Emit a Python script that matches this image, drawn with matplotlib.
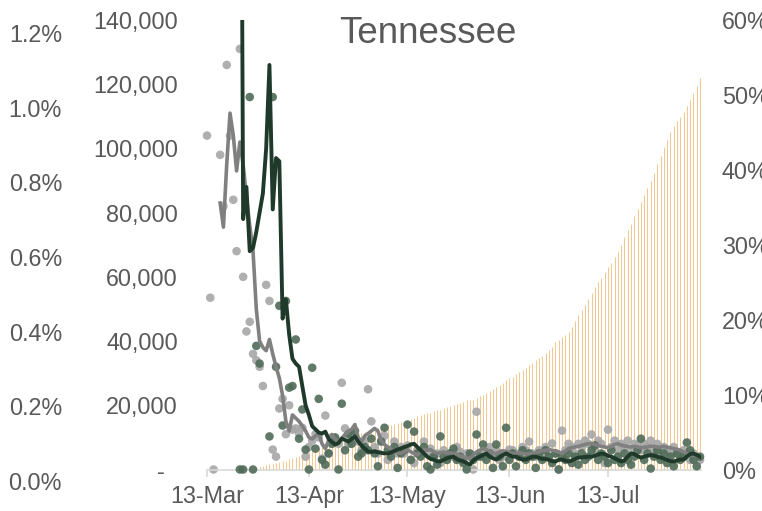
import numpy as np
import matplotlib.pyplot as plt

plt.rcParams['font.family'] = ['Liberation Sans', 'DejaVu Sans']

# x axis: days counted from 13-Mar
tick_days = [0, 31, 61, 92, 122]
tick_labels = ["13-Mar", "13-Apr", "13-May", "13-Jun", "13-Jul"]

# daily dots (thousands), first value is day 0
grey_dots_k = [
    104, 53.5, 0, None, 98, 82, 126, 104, 84, 68,
    131, 60, 43, 46, 36, 34, 32, 26, 57.5, 52.5,
    6.2, 4, 19, 22, 11, 20, 12.4, 12.8, 11.2, 13,
    4, 7, 9, 11, 10, 3.4, 16.8, 5, 10, 9,
    8, 27, 12.8, 8, 10, 12, 8.7, 6, 9, 25,
    15, 7, 5, 9, 10.5, 3, 6, 8.7, 5, 7,
    5, 7.5, 3, 2, 6, 5, 8.7, 5, 6.5, 4,
    5, 2, 6, 3, 5, 4, 7, 5.5, 3, 5,
    4, 0, 18, 5, 4, 6, 7, 5, 6, 3,
    5, 4, 6.2, 6, 5, 4, 7, 6, 8.7, 5,
    4, 6, 5, 7, 4, 8.1, 5, 0, 12.1, 6,
    8, 7, 5, 8, 7, 9, 8, 10.9, 6, 9,
    8, 2, 12.4, 7, 9, 6, 8, 7, 9, 6,
    8, 7.5, 6, 8, 7, 9, 6, 8, 5, 7,
    6.2, 5, 7, 5, 4, 6, 5, 3, 5, 4,
    3,
]
green_dots_k = [
    None, None, None, None, None, None, None, None, None, None,
    0, 0, None, 116, 0, 38.5, 33, None, None, 10.3,
    116, 32, 51, 13.7, 52.5, 25.5, 26, 40.5, 9.6, 18.7,
    6.2, 0, 31.7, 6.5, 22, 3, 1.5, 5, 8, 10,
    0, 20.5, 6, 11, 8, 12, 4, 5, 7, 6,
    9.6, 5, 1, 8.7, 13, 6, 4, 7, 0.5, 5,
    6, 14, 3, 11.8, 5, 4, 7, 1, 0, 4,
    1.5, 10.3, 4, 3, 5, 6.5, 3, 4, 2, 0,
    5, 3, 10.9, 4, 7.8, 3, 5, 0.5, 7.8, 4,
    1, 13, 3, 5, 1, 4, 6, 3, 5, 4,
    0.5, 5, 3, 6, 4, 2, 5, 0, 4, 3,
    5, 2, 4, 1.5, 5, 3, 4, 6, 7.5, 3,
    5, 4, 2, 6, 3, 4, 2, 5, 3, 1.5,
    4, 6, 9.6, 3, 5, 0.3, 4, 6, 3, 5,
    2, 4, 1, 5, 3, 4, 8.4, 6, 3, 1,
    4,
]

# smoothed lines (thousands)
grey_line_start = 4
grey_line_k = [
    83, 75.5, 95, 111, 104, 93, 102, 95, 85, 76, 68, 50,
    40, 38, 37, 40.5, 36, 32, 28.5, 23, 15, 12,
    17, 16, 15, 13.5, 12, 10, 9.5, 10.5, 11.2, 8,
    6.5, 9, 10.9, 9.5, 8.7, 9.8, 10.9, 12, 12.5, 14,
    10, 8.7, 10.5, 11.2, 12, 12.8, 12, 9, 7.8, 7,
    6.5, 5.5, 5.2, 5, 5.5, 6.2, 5.5, 5, 4.5,
    5.5, 6.2, 6, 6.2, 5.5, 5, 5.2, 5.5, 5, 5.2,
    5, 4.8, 4.2, 4, 3.6, 3.4, 4.5, 5.5, 6, 6.5,
    6.2, 5.5, 5, 5, 5.5, 5.8, 5.6, 5.2, 5, 5,
    5.2, 5, 4.8, 5, 5, 5.2, 5.5, 5.8, 6, 6.2,
    6, 5.8, 5.5, 5, 5.8, 6.5, 6.8, 7, 7.2, 7.5,
    7.8, 8, 8.1, 7.8, 7.5, 7.2, 7, 6.8, 7.2, 7.8,
    8, 7.6, 7.3, 7.2, 7, 7.2, 7, 6.8, 6.9, 7,
    7.3, 7.2, 7, 7, 7.2, 6.9, 6.8, 6.5, 6.3, 6,
    5.5, 5, 4.6, 4.4, 4.2, 4,
]
green_line_start = 10
green_line_k = [
    300, 78, 88, 68, 69, 74, 80, 86, 100, 126,
    81, 97, 96, 47, 53, 42, 34.5, 33, 32, 26,
    20, 17, 13.5, 12.5, 11.5, 11.2, 11.8, 9.5, 8.5, 7.8,
    8.2, 9.6, 9.2, 8.7, 9.5, 10.3, 8.7, 7.5, 6.5, 5.6,
    5.5, 5.6, 5.4, 5.2, 5, 5, 5.3, 5.8, 6.2, 6.6,
    7, 7.3, 7.8, 8, 7, 6, 5, 4, 3.3, 3,
    2.6, 2.5, 3, 3.5, 3.8, 4, 3.2, 2.8, 2.5, 2,
    1.5, 2.8, 3.5, 4, 4.5, 5, 4, 3.5, 3.1, 3.8,
    4.5, 5, 4.5, 4, 4, 3.5, 3.1, 3.1, 3.5, 4,
    4, 3.6, 3.3, 3.3, 3, 2.6, 2.5, 3, 3.1, 2.8,
    2.5, 2.8, 3.3, 3.7, 3.8, 3.9, 4, 4, 4.3, 4.7,
    5, 4.8, 4.3, 4, 3.5, 3, 2.5, 2.8, 4, 5,
    4.8, 4.2, 3.7, 4, 4.3, 4.5, 4.3, 4, 3.7, 3.4,
    3, 2.6, 2.5, 2.8, 3.1, 3.1, 4, 4.8, 5, 4.5,
    4,
]

# bars on the right axis (percent)
bar_start = 14
bar_pct = [
    0.1, 0.3, 0.4, 0.5, 0.6, 0.7, 0.8, 0.9, 1.0, 1.1,
    1.2, 1.4, 1.5, 1.7, 1.8, 2.0, 2.2, 2.4, 2.5, 2.7,
    2.9, 3.0, 3.2, 3.4, 3.5, 3.7, 3.8, 4.0, 4.1, 4.3,
    4.4, 4.6, 4.7, 4.9, 5.0, 5.1, 5.3, 5.4, 5.5, 5.7,
    5.8, 5.9, 6.0, 6.1, 6.2, 6.3, 6.4, 6.5, 6.7, 6.9,
    7.1, 7.3, 7.4, 7.5, 7.6, 7.8, 7.9, 8.0, 8.2, 8.3,
    8.5, 8.6, 8.8, 8.9, 9.0, 9.3, 9.3, 9.3, 9.6, 9.8,
    10.0, 10.2, 10.5, 10.7, 11.0, 11.3, 11.6, 11.9, 12.2, 12.4,
    12.7, 13.0, 13.3, 13.6, 13.9, 14.2, 14.6, 14.9, 15.2, 15.5,
    15.9, 16.3, 17.0, 17.3, 17.7, 18.0, 18.3, 19.0, 19.8, 20.6,
    21.3, 22.0, 22.8, 23.6, 24.3, 25.0, 25.6, 26.3, 27.0, 27.5,
    28.3, 29.0, 30.0, 31.0, 32.0, 32.8, 33.8, 34.8, 35.7, 36.6,
    37.6, 38.5, 39.6, 40.8, 41.9, 43.0, 44.0, 45.0, 45.8, 46.5,
    47.1, 47.7, 48.5, 49.3, 50.3, 51.2, 52.3,
]

left_ticks = [0, 20000, 40000, 60000, 80000, 100000, 120000, 140000]
left_labels = ["-  ", "20,000", "40,000", "60,000", "80,000", "100,000", "120,000", "140,000"]
right_ticks = [0, 10, 20, 30, 40, 50, 60]
outer_ticks = [0.0, 0.2, 0.4, 0.6, 0.8, 1.0, 1.2]

txt = '#595959'
fs = 16.8

def to_arr(vals):
    return np.array([np.nan if v is None else v for v in vals], dtype=float) * 1000

W, H = 762, 511
fig = plt.figure(figsize=(W / 100, H / 100), dpi=100)
ax = fig.add_axes([207 / W, 41.5 / H, 494 / W, 449.5 / H])
ax2 = ax.twinx()
ax.set_zorder(ax2.get_zorder() + 1)
ax.patch.set_visible(False)

# bars (thin daily columns)
bar_days = np.arange(bar_start, bar_start + len(bar_pct))
ax2.vlines(bar_days, 0, bar_pct, color='#F1C993', linewidth=0.75)
ax2.set_ylim(0, 60)
ax2.set_yticks(right_ticks)
ax2.set_yticklabels([f"{t}%" for t in right_ticks])

# dots and lines
days = np.arange(len(grey_dots_k))
ax.scatter(days, to_arr(grey_dots_k), s=38, color='#a6a6a6', alpha=0.9,
           edgecolors='none', clip_on=False, zorder=2)
ax.scatter(np.arange(len(green_dots_k)), to_arr(green_dots_k), s=38, color='#4f6b58',
           alpha=0.9, edgecolors='none', clip_on=False, zorder=3)
ax.plot(np.arange(grey_line_start, grey_line_start + len(grey_line_k)), to_arr(grey_line_k),
        color='#808080', lw=2.6, solid_joinstyle='round', zorder=4)
ax.plot(np.arange(green_line_start, green_line_start + len(green_line_k)), to_arr(green_line_k),
        color='#1f3a2a', lw=2.8, solid_joinstyle='round', zorder=5)

ax.set_xlim(0, 150.3)
ax.set_ylim(0, 140000)
ax.set_yticks(left_ticks)
ax.set_yticklabels(left_labels)
ax.set_xticks(tick_days)
ax.set_xticklabels(tick_labels)

for a in (ax, ax2):
    for s in a.spines.values():
        s.set_visible(False)
ax.spines['bottom'].set_visible(True)
ax.spines['bottom'].set_color('#d9d9d9')
ax.spines['bottom'].set_linewidth(1.2)

ax.tick_params(axis='y', length=0, pad=21, labelsize=fs, labelcolor=txt)
ax.tick_params(axis='x', length=5, width=1.2, color='#d9d9d9', pad=6,
               labelsize=fs, labelcolor=txt)
ax2.tick_params(axis='y', length=0, pad=15, labelsize=fs, labelcolor=txt)

# outer left percentage axis
ax3 = fig.add_axes([62 / W, 30 / H, 0.001, 448 / H])
ax3.set_ylim(0, 1.2)
ax3.set_yticks(outer_ticks)
ax3.set_yticklabels([f"{t:.1f}%" for t in outer_ticks])
ax3.set_xticks([])
ax3.patch.set_visible(False)
for s in ax3.spines.values():
    s.set_visible(False)
ax3.tick_params(axis='y', length=0, pad=0, labelsize=fs, labelcolor=txt)

fig.text(428 / W, 1 - 43 / H, "Tennessee", ha='center', va='baseline',
         fontsize=26.5, color=txt)

fig.savefig('out.png', dpi=100)
